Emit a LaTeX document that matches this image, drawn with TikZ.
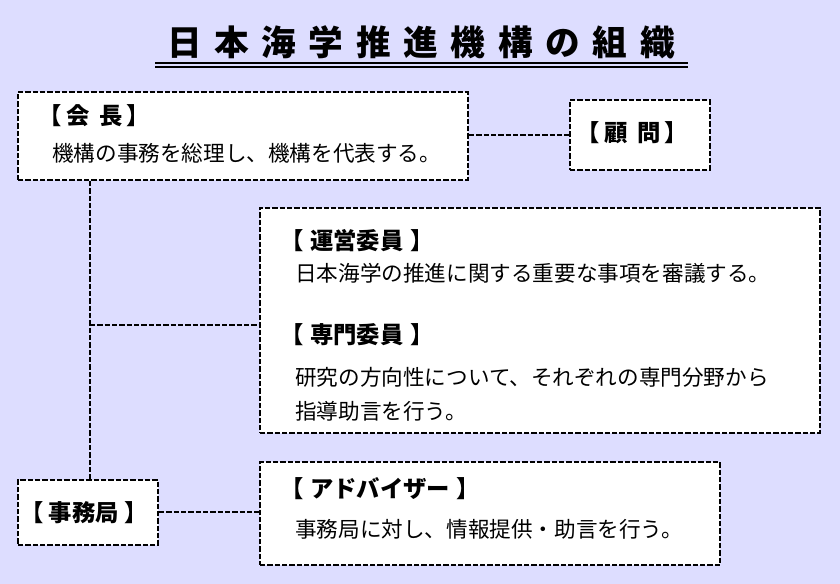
\documentclass[tikz,border=0pt]{standalone}
\usepackage{fontspec}
\newfontfamily\jp{Noto Sans CJK JP}
\begin{document}
\begin{tikzpicture}[x=0.75pt,y=-0.75pt,
  box/.style={draw=black,fill=white,line width=1.5pt,dash pattern=on 4pt off 1.5pt,inner sep=0pt},
  conn/.style={line width=1.5pt,dash pattern=on 4pt off 1.5pt},
  hd/.style={anchor=west,inner sep=0pt,font=\jp\fontsize{17.5}{20}\selectfont\bfseries},
  tx/.style={anchor=west,inner sep=0pt,font=\jp\fontsize{16.2}{18}\selectfont}]
\fill[fill={rgb,255:red,221;green,221;blue,255}] (0,0) rectangle (840,584);
\useasboundingbox (0,0) rectangle (840,584);
\node[inner sep=0pt,font=\jp\fontsize{26}{30}\selectfont\bfseries] (title) at (421,42) {日\hspace{9.5pt}本\hspace{9.5pt}海\hspace{9.5pt}学\hspace{9.5pt}推\hspace{9.5pt}進\hspace{9.5pt}機\hspace{9.5pt}構\hspace{9.5pt}の\hspace{9.5pt}組\hspace{9.5pt}織};
\draw[line width=2pt] (155,63) -- (688,63);
\draw[line width=1pt] (155,67) -- (688,67);
\node[box,minimum width=450*0.75pt,minimum height=88*0.75pt] (kaicho) at (243,136) {};
\node[box,minimum width=140*0.75pt,minimum height=70*0.75pt] (komon) at (640,135) {};
\node[box,minimum width=560*0.75pt,minimum height=225*0.75pt] (iin) at (540,320.5) {};
\node[box,minimum width=140*0.75pt,minimum height=65*0.75pt] (jimu) at (88,512.5) {};
\node[box,minimum width=460*0.75pt,minimum height=103*0.75pt] (adv) at (490,513.5) {};
\coordinate (j1) at (90,325);
\draw[conn] (kaicho.south -| j1) -- (jimu.north -| j1);
\draw[conn] (j1) -- (iin.west |- j1);
\draw[conn] (kaicho.east |- komon) -- (komon.west);
\draw[conn] (jimu.east) -- (adv.west |- jimu.east);
\node[hd] (h1) at (38,116) {【\hspace{4pt}会\hspace{7pt}長\hspace{3pt}】};
\node[tx] (t1) at (52,153) {機構の事務を総理し、機構を代表する。};
\node[hd] (h2) at (576,133) {【\hspace{4pt}顧\hspace{7pt}問\hspace{3pt}】};
\node[hd] (h3) at (280,241) {【\hspace{5pt}運営委員\hspace{5pt}】};
\node[hd] (h4) at (280,335) {【\hspace{5pt}専門委員\hspace{5pt}】};
\node[tx] (t3) at (295,273) {日本海学の推進に関する重要な事項を審議する。};
\node[tx] (t4a) at (295,377) {研究の方向性について、それぞれの専門分野から};
\node[tx] (t4b) at (295,411) {指導助言を行う。};
\node[hd] (h5) at (20,513) {【\hspace{4pt}事務局\hspace{4pt}】};
\node[hd] (h6) at (280,489) {【\hspace{5pt}アドバイザー\hspace{5pt}】};
\node[tx] (t6) at (295,529) {事務局に対し、情報提供・助言を行う。};
\end{tikzpicture}
\end{document}
